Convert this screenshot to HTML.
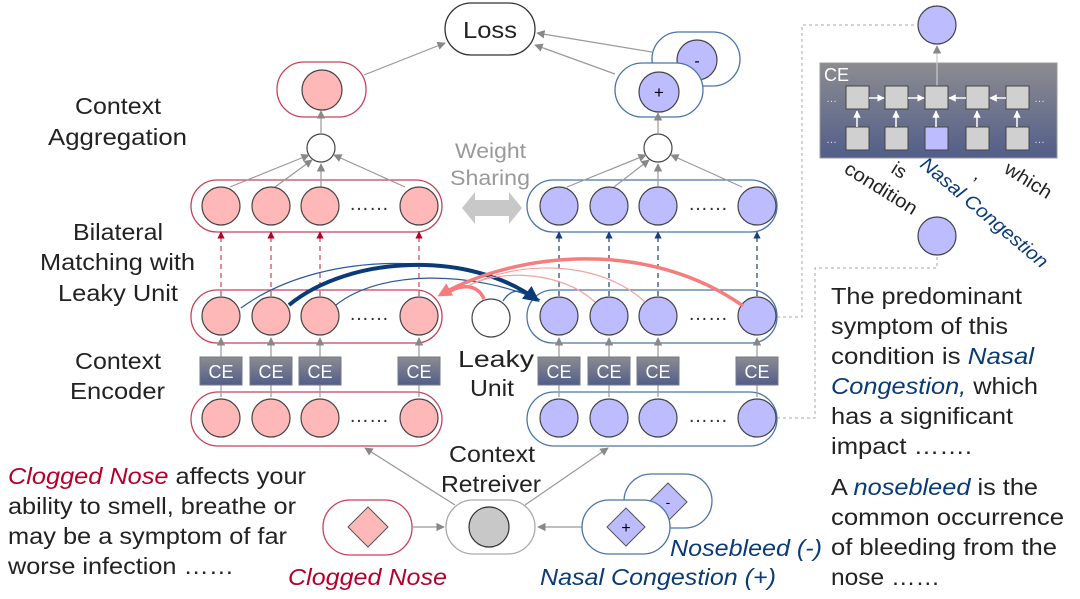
<!DOCTYPE html>
<html><head><meta charset="utf-8"><style>
html,body{margin:0;padding:0;background:#fff;}
svg{display:block;font-family:"Liberation Sans",sans-serif;}
</style></head><body>
<svg width="1080" height="599" viewBox="0 0 1080 599" xmlns="http://www.w3.org/2000/svg">
<defs>
<marker id="ag" viewBox="0 0 10 10" refX="9" refY="5" markerWidth="7" markerHeight="7" orient="auto"><path d="M0,0L10,5L0,10z" fill="#888"/></marker>
<marker id="ar" viewBox="0 0 10 10" refX="9" refY="5" markerWidth="6" markerHeight="6" orient="auto"><path d="M0,0L10,5L0,10z" fill="#b5002a"/></marker>
<marker id="ab" viewBox="0 0 10 10" refX="9" refY="5" markerWidth="6" markerHeight="6" orient="auto"><path d="M0,0L10,5L0,10z" fill="#1a3f7a"/></marker>
<marker id="aw" viewBox="0 0 10 10" refX="9" refY="5" markerWidth="5" markerHeight="5" orient="auto"><path d="M0,0L10,5L0,10z" fill="#fff"/></marker>
<marker id="abig" viewBox="0 0 10 10" refX="8" refY="5" markerWidth="4" markerHeight="4" orient="auto"><path d="M0,0L10,5L0,10z" fill="#0a3a78"/></marker>
<marker id="asal" viewBox="0 0 10 10" refX="8" refY="5" markerWidth="4" markerHeight="4" orient="auto"><path d="M0,0L10,5L0,10z" fill="#f77c7c"/></marker>
<linearGradient id="ce" x1="0" y1="0" x2="0" y2="1"><stop offset="0" stop-color="#8c8c90"/><stop offset="1" stop-color="#525e8a"/></linearGradient>
</defs>

<rect x="445" y="3" width="90" height="52" rx="26" fill="#fff" stroke="#333" stroke-width="1.3"/>
<text x="463" y="38" font-size="23" fill="#222" textLength="54" lengthAdjust="spacingAndGlyphs">Loss</text>
<line x1="364" y1="75" x2="445" y2="43" stroke="#999" stroke-width="1.2" marker-end="url(#ag)"/>
<line x1="652" y1="52" x2="537" y2="33" stroke="#999" stroke-width="1.2" marker-end="url(#ag)"/>
<line x1="615" y1="74" x2="535" y2="45" stroke="#999" stroke-width="1.2" marker-end="url(#ag)"/>

<rect x="277" y="62" width="89" height="55" rx="27" fill="#fff" stroke="#c8425a" stroke-width="1.3"/>
<circle cx="322" cy="90" r="20" fill="#ffb8b8" stroke="#444" stroke-width="1.2"/>
<circle cx="321" cy="148" r="14" fill="#fff" stroke="#444" stroke-width="1.2"/>
<line x1="321" y1="134" x2="321" y2="111" stroke="#999" stroke-width="1.2" marker-end="url(#ag)"/>

<rect x="652" y="32" width="88" height="54" rx="27" fill="#fff" stroke="#4a75a8" stroke-width="1.3"/>
<circle cx="697" cy="60" r="20" fill="#bcbcff" stroke="#444" stroke-width="1.2"/>
<text x="697" y="66" font-size="16" text-anchor="middle">-</text>
<rect x="615" y="63" width="88" height="54" rx="27" fill="#fff" stroke="#4a75a8" stroke-width="1.3"/>
<circle cx="659" cy="92" r="20" fill="#bcbcff" stroke="#444" stroke-width="1.2"/>
<text x="659" y="98" font-size="17" text-anchor="middle">+</text>
<circle cx="658" cy="148" r="14" fill="#fff" stroke="#444" stroke-width="1.2"/>
<line x1="658" y1="134" x2="658" y2="113" stroke="#999" stroke-width="1.2" marker-end="url(#ag)"/>

<g font-size="23" fill="#222">
<text x="75" y="114" textLength="86" lengthAdjust="spacingAndGlyphs">Context</text>
<text x="48" y="145" textLength="139" lengthAdjust="spacingAndGlyphs">Aggregation</text>
<text x="73" y="240" textLength="90" lengthAdjust="spacingAndGlyphs">Bilateral</text>
<text x="40" y="270" textLength="155" lengthAdjust="spacingAndGlyphs">Matching with</text>
<text x="58" y="301" textLength="120" lengthAdjust="spacingAndGlyphs">Leaky Unit</text>
<text x="75" y="369" textLength="86" lengthAdjust="spacingAndGlyphs">Context</text>
<text x="70" y="399" textLength="95" lengthAdjust="spacingAndGlyphs">Encoder</text>
</g>
<text x="455" y="158" font-size="21" fill="#999" textLength="71" lengthAdjust="spacingAndGlyphs">Weight</text>
<text x="450" y="185" font-size="21" fill="#999" textLength="80" lengthAdjust="spacingAndGlyphs">Sharing</text>
<path d="M462,208 L475,192 L475,200 L509,200 L509,192 L522,208 L509,224 L509,216 L475,216 L475,224 Z" fill="#c8c8c8"/>

<g fill="#fff" stroke-width="1.3">
<rect x="191" y="180" width="251" height="52" rx="26" stroke="#c8425a"/>
<rect x="191" y="290" width="251" height="53" rx="26" stroke="#c8425a"/>
<rect x="191" y="392" width="251" height="54" rx="27" stroke="#c8425a"/>
<rect x="527" y="180" width="250" height="52" rx="26" stroke="#4a75a8"/>
<rect x="527" y="290" width="250" height="53" rx="26" stroke="#4a75a8"/>
<rect x="527" y="392" width="250" height="54" rx="27" stroke="#4a75a8"/>
</g>

<g stroke="#999" stroke-width="1.2" marker-end="url(#ag)">
<line x1="230" y1="187" x2="309" y2="155"/>
<line x1="275" y1="187" x2="312" y2="160"/>
<line x1="321" y1="187" x2="321" y2="164"/>
<line x1="405" y1="187" x2="334" y2="155"/>
<line x1="567" y1="187" x2="646" y2="155"/>
<line x1="614" y1="187" x2="649" y2="160"/>
<line x1="658" y1="187" x2="658" y2="164"/>
<line x1="742" y1="187" x2="671" y2="155"/>
</g>

<g stroke="#c8425a" stroke-width="1.2" stroke-dasharray="5,4" marker-end="url(#ar)">
<line x1="221" y1="296" x2="221" y2="232"/><line x1="271" y1="296" x2="271" y2="232"/><line x1="320" y1="296" x2="320" y2="232"/><line x1="419" y1="296" x2="419" y2="232"/>
</g>
<g stroke="#1a3f7a" stroke-width="1.2" stroke-dasharray="5,4" marker-end="url(#ab)">
<line x1="559" y1="296" x2="559" y2="232"/><line x1="609" y1="296" x2="609" y2="232"/><line x1="658" y1="296" x2="658" y2="232"/><line x1="757" y1="296" x2="757" y2="232"/>
</g>

<g stroke="#999" stroke-width="1.2">
<line x1="221" y1="397" x2="221" y2="384"/><line x1="271" y1="397" x2="271" y2="384"/><line x1="320" y1="397" x2="320" y2="384"/><line x1="419" y1="397" x2="419" y2="384"/>
<line x1="559" y1="397" x2="559" y2="384"/><line x1="609" y1="397" x2="609" y2="384"/><line x1="658" y1="397" x2="658" y2="384"/><line x1="757" y1="397" x2="757" y2="384"/>
</g>
<g stroke="#999" stroke-width="1.2" marker-end="url(#ag)">
<line x1="221" y1="357" x2="221" y2="338"/><line x1="271" y1="357" x2="271" y2="338"/><line x1="320" y1="357" x2="320" y2="338"/><line x1="419" y1="357" x2="419" y2="338"/>
<line x1="559" y1="357" x2="559" y2="338"/><line x1="609" y1="357" x2="609" y2="338"/><line x1="658" y1="357" x2="658" y2="338"/><line x1="757" y1="357" x2="757" y2="338"/>
</g>
<g font-size="18" fill="#fff" text-anchor="middle">
<rect x="200" y="357" width="42" height="28" fill="url(#ce)" stroke="#778"/><text x="221" y="378">CE</text>
<rect x="250" y="357" width="42" height="28" fill="url(#ce)" stroke="#778"/><text x="271" y="378">CE</text>
<rect x="299" y="357" width="42" height="28" fill="url(#ce)" stroke="#778"/><text x="320" y="378">CE</text>
<rect x="398" y="357" width="42" height="28" fill="url(#ce)" stroke="#778"/><text x="419" y="378">CE</text>
<rect x="538" y="357" width="42" height="28" fill="url(#ce)" stroke="#778"/><text x="559" y="378">CE</text>
<rect x="588" y="357" width="42" height="28" fill="url(#ce)" stroke="#778"/><text x="609" y="378">CE</text>
<rect x="637" y="357" width="42" height="28" fill="url(#ce)" stroke="#778"/><text x="658" y="378">CE</text>
<rect x="736" y="357" width="42" height="28" fill="url(#ce)" stroke="#778"/><text x="757" y="378">CE</text>
</g>

<g stroke="#444" stroke-width="1.2">
<g fill="#ffb8b8">
<circle cx="221" cy="206" r="19"/><circle cx="271" cy="206" r="19"/><circle cx="320" cy="206" r="19"/><circle cx="419" cy="206" r="19"/>
<circle cx="221" cy="316" r="19"/><circle cx="271" cy="316" r="19"/><circle cx="320" cy="316" r="19"/><circle cx="419" cy="316" r="19"/>
<circle cx="221" cy="418" r="19"/><circle cx="271" cy="418" r="19"/><circle cx="320" cy="418" r="19"/><circle cx="419" cy="418" r="19"/>
</g>
<g fill="#bcbcff">
<circle cx="559" cy="206" r="19"/><circle cx="609" cy="206" r="19"/><circle cx="658" cy="206" r="19"/><circle cx="757" cy="206" r="19"/>
<circle cx="559" cy="316" r="19"/><circle cx="609" cy="316" r="19"/><circle cx="658" cy="316" r="19"/><circle cx="757" cy="316" r="19"/>
<circle cx="559" cy="418" r="19"/><circle cx="609" cy="418" r="19"/><circle cx="658" cy="418" r="19"/><circle cx="757" cy="418" r="19"/>
</g>
<circle cx="491" cy="318" r="19" fill="#fff"/>
</g>
<g font-size="20" fill="#333" text-anchor="middle">
<text x="369" y="210">……</text><text x="369" y="320">……</text><text x="369" y="422">……</text>
<text x="708" y="210">……</text><text x="708" y="320">……</text><text x="708" y="422">……</text>
</g>
<text x="458" y="367" font-size="23" fill="#222" textLength="76" lengthAdjust="spacingAndGlyphs">Leaky</text>
<text x="470" y="396" font-size="23" fill="#222" textLength="44" lengthAdjust="spacingAndGlyphs">Unit</text>

<path d="M241,308 C320,250 460,250 540,300" fill="none" stroke="#2b5a9a" stroke-width="1.2"/>
<path d="M336,305 C380,270 470,270 540,300" fill="none" stroke="#2b5a9a" stroke-width="1.2"/>
<path d="M503,301 C510,290 520,288 527,296" fill="none" stroke="#2b5a9a" stroke-width="1.2"/>
<path d="M289,305 C350,255 470,250 537,300" fill="none" stroke="#0a3a78" stroke-width="4" marker-end="url(#abig)"/>
<path d="M595,302 C560,270 500,270 470,285" fill="none" stroke="#f7a0a0" stroke-width="1.2"/>
<path d="M645,302 C600,260 520,260 470,285" fill="none" stroke="#f7a0a0" stroke-width="1.2"/>
<path d="M743,306 C650,240 520,250 440,295" fill="none" stroke="#f77c7c" stroke-width="3.5" marker-end="url(#asal)"/>
<path d="M484,299 C478,285 462,282 444,295" fill="none" stroke="#f77c7c" stroke-width="3.5"/>

<g stroke="#aaa" stroke-width="1" stroke-dasharray="3,3" fill="none">
<path d="M777,317 H802 V25 H917"/>
<path d="M777,418 H815 V268 H937 V256"/>
</g>
<circle cx="937" cy="25" r="19" fill="#bcbcff" stroke="#444" stroke-width="1.2"/>
<circle cx="937" cy="236" r="19" fill="#bcbcff" stroke="#444" stroke-width="1.2"/>
<rect x="820" y="63" width="237" height="95" fill="url(#ce)" stroke="#999"/>
<text x="824" y="81" font-size="18" fill="#fff">CE</text>
<line x1="937" y1="86" x2="937" y2="46" stroke="#ccc" stroke-width="1.2" marker-end="url(#ag)"/>
<g fill="#d0d0d0" stroke="#444" stroke-width="1">
<rect x="846" y="86" width="23" height="23"/><rect x="885" y="86" width="23" height="23"/><rect x="925" y="86" width="23" height="23"/><rect x="966" y="86" width="23" height="23"/><rect x="1006" y="86" width="23" height="23"/>
<rect x="846" y="127" width="23" height="23"/><rect x="885" y="127" width="23" height="23"/><rect x="925" y="127" width="23" height="23" fill="#bcbcff"/><rect x="966" y="127" width="23" height="23"/><rect x="1006" y="127" width="23" height="23"/>
</g>
<g stroke="#fff" stroke-width="1.5" marker-end="url(#aw)">
<line x1="869" y1="98" x2="884" y2="98"/><line x1="908" y1="98" x2="924" y2="98"/><line x1="966" y1="98" x2="949" y2="98"/><line x1="1006" y1="98" x2="990" y2="98"/>
<line x1="857" y1="127" x2="857" y2="111"/><line x1="896" y1="127" x2="896" y2="111"/><line x1="936" y1="127" x2="936" y2="111"/><line x1="977" y1="127" x2="977" y2="111"/><line x1="1017" y1="127" x2="1017" y2="111"/>
</g>
<g fill="#ddd" font-size="11"><text x="826" y="102">…</text><text x="826" y="143">…</text><text x="1034" y="102">…</text><text x="1034" y="143">…</text></g>
<g font-size="19" fill="#222">
<text transform="translate(843,172) rotate(32)" textLength="82" lengthAdjust="spacingAndGlyphs">condition</text>
<text transform="translate(890,172) rotate(32)">is</text>
<text transform="translate(919,166) rotate(40)" fill="#0a3a78" font-style="italic" textLength="160" lengthAdjust="spacingAndGlyphs">Nasal Congestion</text>
<text transform="translate(973,178) rotate(32)">,</text>
<text transform="translate(1003,172) rotate(32)" textLength="52" lengthAdjust="spacingAndGlyphs">which</text>
</g>

<g font-size="23" fill="#222">
<text x="831" y="304" textLength="191" lengthAdjust="spacingAndGlyphs">The predominant</text>
<text x="831" y="334" textLength="177" lengthAdjust="spacingAndGlyphs">symptom of this</text>
<text x="831" y="364" textLength="203" lengthAdjust="spacingAndGlyphs">condition is <tspan fill="#0a3a78" font-style="italic">Nasal</tspan></text>
<text x="831" y="394" textLength="207" lengthAdjust="spacingAndGlyphs"><tspan fill="#0a3a78" font-style="italic">Congestion,</tspan> which</text>
<text x="831" y="424" textLength="182" lengthAdjust="spacingAndGlyphs">has a significant</text>
<text x="831" y="454" textLength="141" lengthAdjust="spacingAndGlyphs">impact …….</text>
<text x="831" y="495" textLength="207" lengthAdjust="spacingAndGlyphs">A <tspan fill="#0a3a78" font-style="italic">nosebleed</tspan> is the</text>
<text x="831" y="525" textLength="233" lengthAdjust="spacingAndGlyphs">common occurrence</text>
<text x="831" y="555" textLength="226" lengthAdjust="spacingAndGlyphs">of bleeding from the</text>
<text x="831" y="585" textLength="109" lengthAdjust="spacingAndGlyphs">nose ……</text>
</g>

<g font-size="23" fill="#222">
<text x="8" y="484" textLength="298" lengthAdjust="spacingAndGlyphs"><tspan fill="#b5002a" font-style="italic">Clogged Nose</tspan> affects your</text>
<text x="8" y="514" textLength="288" lengthAdjust="spacingAndGlyphs">ability to smell, breathe or</text>
<text x="8" y="544" textLength="279" lengthAdjust="spacingAndGlyphs">may be a symptom of far</text>
<text x="8" y="574" textLength="226" lengthAdjust="spacingAndGlyphs">worse infection ……</text>
</g>

<line x1="455" y1="505" x2="365" y2="448" stroke="#999" stroke-width="1.2" marker-end="url(#ag)"/>
<line x1="525" y1="505" x2="608" y2="448" stroke="#999" stroke-width="1.2" marker-end="url(#ag)"/>
<text x="449" y="462" font-size="23" fill="#222" textLength="86" lengthAdjust="spacingAndGlyphs">Context</text>
<text x="441" y="492" font-size="23" fill="#222" textLength="100" lengthAdjust="spacingAndGlyphs">Retreiver</text>
<rect x="323" y="500" width="89" height="55" rx="27" fill="#fff" stroke="#c8425a" stroke-width="1.3"/>
<path d="M368,507 L388,527 L368,547 L348,527Z" fill="#ffb8b8" stroke="#555"/>
<line x1="413" y1="527" x2="444" y2="527" stroke="#999" stroke-width="1.2" marker-end="url(#ag)"/>
<rect x="446" y="500" width="89" height="54" rx="27" fill="#fff" stroke="#aaa" stroke-width="1.3"/>
<circle cx="489" cy="527" r="20" fill="#c8c8c8" stroke="#333" stroke-width="1.2"/>
<line x1="582" y1="527" x2="538" y2="527" stroke="#999" stroke-width="1.2" marker-end="url(#ag)"/>
<rect x="624" y="474" width="88" height="54" rx="27" fill="#fff" stroke="#4a75a8" stroke-width="1.3"/>
<path d="M668,483 L687,502 L668,521 L649,502Z" fill="#bcbcff" stroke="#555"/>
<text x="668" y="507" font-size="14" text-anchor="middle">-</text>
<rect x="582" y="500" width="88" height="54" rx="27" fill="#fff" stroke="#4a75a8" stroke-width="1.3"/>
<path d="M626,508 L645,527 L626,546 L607,527Z" fill="#bcbcff" stroke="#555"/>
<text x="626" y="533" font-size="16" text-anchor="middle">+</text>
<g font-size="23" font-style="italic">
<text x="288" y="585" fill="#b5002a" textLength="159" lengthAdjust="spacingAndGlyphs">Clogged Nose</text>
<text x="540" y="585" fill="#0a3a78" textLength="236" lengthAdjust="spacingAndGlyphs">Nasal Congestion (+)</text>
<text x="670" y="556" fill="#0a3a78" textLength="152" lengthAdjust="spacingAndGlyphs">Nosebleed (-)</text>
</g>
</svg>
</body></html>
